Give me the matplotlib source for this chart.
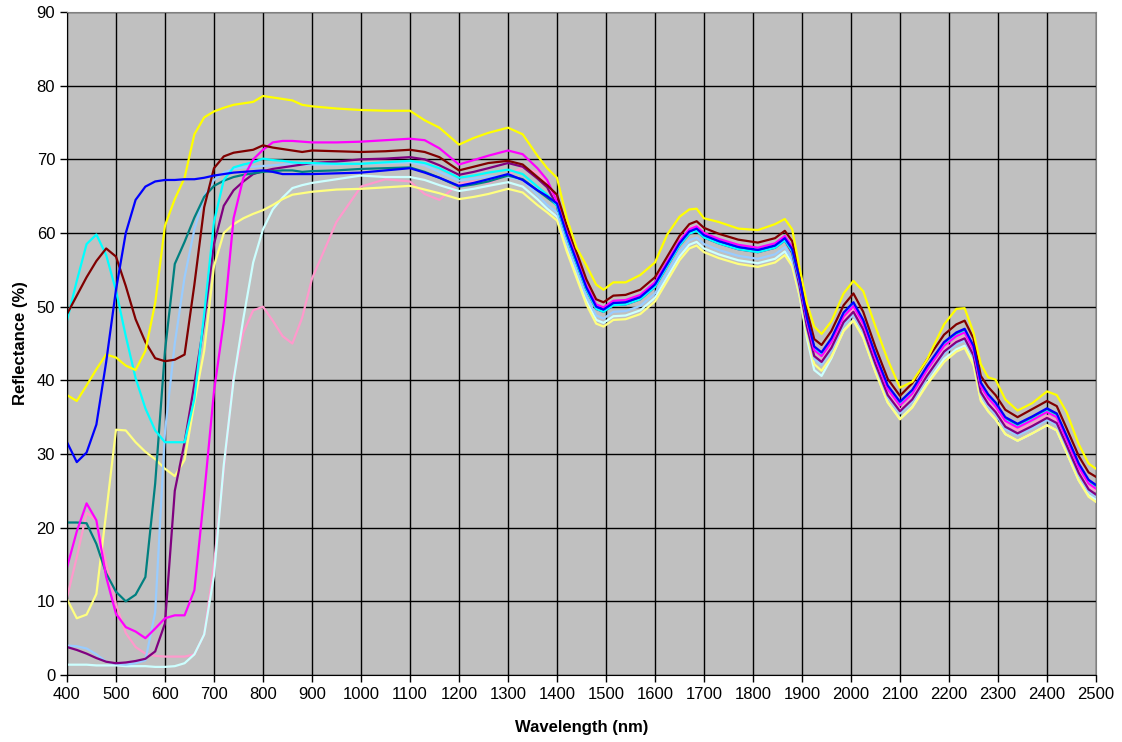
# Reflectance spectra
import matplotlib
matplotlib.use('Agg')
import matplotlib.pyplot as plt

#wavelength knots (nm)
wl_short = [400, 420, 440, 460, 480, 500, 520, 540, 560, 580, 600, 620, 640, 660, 680,
            700, 720, 740, 760, 780, 800, 820, 840, 860, 880, 900, 950, 1000, 1050,
            1100, 1130, 1160, 1200, 1230, 1260, 1300, 1330, 1360, 1380]
wl_long = [1400, 1420, 1440, 1460, 1480, 1495, 1515, 1540, 1570, 1600,
           1625, 1650, 1670, 1685, 1700, 1730, 1770, 1810, 1845, 1865,
           1880, 1895, 1910, 1925, 1940, 1960, 1985, 2005, 2025, 2050,
           2075, 2100, 2125, 2155, 2190, 2215, 2232, 2250, 2265, 2280,
           2295, 2315, 2340, 2370, 2400, 2420, 2440, 2465, 2485, 2500]

#reflectance (%)
yellow_short = [38.0, 37.2, 39.3, 41.5, 43.5, 43.1, 42.0, 41.4, 44.0, 50.5, 61.0, 64.6, 67.5,
                73.4, 75.7, 76.5, 77.0, 77.4, 77.6, 77.8, 78.6, 78.4, 78.2, 78.0, 77.4, 77.2,
                76.9, 76.7, 76.6, 76.6, 75.3, 74.3, 72.0, 72.9, 73.6, 74.3, 73.4, 70.5, 68.8]
yellow_long = [67.5, 62.0, 58.0, 55.6, 53.0, 52.3, 53.3, 53.3, 54.3, 56.0,
               59.8, 62.2, 63.2, 63.3, 62.0, 61.5, 60.6, 60.4, 61.2, 61.9,
               60.5, 55.3, 50.5, 47.3, 46.3, 48.0, 51.8, 53.5, 52.1, 47.3,
               42.8, 39.0, 39.8, 42.8, 47.6, 49.7, 49.8, 46.5, 42.2, 40.4,
               40.1, 37.4, 35.9, 36.9, 38.5, 38.0, 35.7, 31.3, 28.7, 28.0]

lyellow_short = [10.3, 7.7, 8.2, 11.0, 22.0, 33.3, 33.2, 31.6, 30.3, 29.3, 28.0, 27.0, 29.2,
                 37.0, 44.0, 55.5, 60.0, 61.2, 62.0, 62.6, 63.1, 63.8, 64.6, 65.2, 65.4, 65.6,
                 65.9, 66.0, 66.2, 66.4, 65.9, 65.4, 64.6, 64.9, 65.3, 66.0, 65.5, 63.8, 62.8]
lyellow_long = [61.7, 57.5, 53.9, 50.3, 47.7, 47.3, 48.2, 48.3, 49.0, 50.7,
                53.5, 56.3, 57.9, 58.3, 57.4, 56.6, 55.8, 55.4, 56.0, 57.0,
                55.5, 51.5, 46.2, 42.2, 41.3, 43.2, 46.7, 48.1, 45.8, 41.1,
                37.0, 34.7, 36.3, 39.4, 42.5, 43.9, 44.4, 42.1, 37.2, 35.8,
                34.7, 32.7, 31.8, 32.8, 33.9, 33.2, 30.2, 26.4, 24.2, 23.5]

cyan_short = [48.1, 53.5, 58.5, 59.8, 57.0, 52.2, 46.0, 40.3, 36.2, 33.2, 31.6, 31.6, 31.6,
              37.5, 49.0, 61.5, 67.2, 68.9, 69.3, 69.6, 70.1, 69.9, 69.8, 69.6, 69.5, 69.5,
              69.4, 69.4, 69.6, 69.8, 69.5, 68.8, 67.5, 67.8, 68.2, 68.6, 68.0, 66.3, 65.2]
cyan_long = [63.7, 59.5, 55.9, 52.3, 49.7, 49.3, 50.2, 50.3, 51.0, 52.7,
             55.5, 58.3, 59.9, 60.3, 59.4, 58.6, 57.8, 57.4, 58.0, 59.0,
             57.5, 53.5, 48.2, 44.3, 43.5, 45.4, 48.9, 50.3, 47.9, 43.2,
             39.0, 36.8, 38.3, 41.5, 44.8, 46.1, 46.6, 44.3, 39.3, 37.7,
             36.6, 34.6, 33.7, 34.7, 35.8, 35.1, 32.1, 28.3, 26.1, 25.4]

lcyan_short = [1.4, 1.4, 1.4, 1.3, 1.3, 1.3, 1.2, 1.2, 1.2, 1.1, 1.1, 1.2, 1.6,
               2.8, 5.5, 13.5, 28.5, 40.0, 48.4, 56.0, 60.5, 63.2, 64.8, 66.1, 66.5, 66.8,
               67.3, 67.8, 67.6, 67.6, 67.2, 66.5, 65.7, 66.0, 66.4, 66.9, 66.3, 64.6, 63.3]
lcyan_long = [62.2, 58.0, 54.4, 50.8, 48.2, 47.8, 48.7, 48.8, 49.5, 51.2,
              54.0, 56.8, 58.4, 58.8, 57.9, 57.1, 56.3, 55.9, 56.5, 57.5,
              55.8, 51.6, 45.7, 41.4, 40.6, 43.0, 46.8, 48.2, 45.9, 41.2,
              37.0, 34.8, 36.4, 39.6, 42.9, 44.2, 44.7, 42.4, 37.4, 35.8,
              34.7, 32.7, 31.8, 32.8, 33.9, 33.2, 30.2, 26.4, 24.4, 23.8]

blue_short = [31.6, 28.9, 30.2, 34.0, 42.5, 52.3, 60.0, 64.5, 66.3, 67.0, 67.2, 67.2, 67.3,
              67.3, 67.5, 67.8, 68.0, 68.2, 68.3, 68.4, 68.5, 68.3, 68.0, 68.0, 68.0, 68.0,
              68.1, 68.2, 68.5, 68.8, 68.2, 67.5, 66.4, 66.8, 67.3, 68.0, 67.2, 65.8, 65.0]
blue_long = [64.0, 59.8, 56.2, 52.6, 50.0, 49.6, 50.5, 50.6, 51.3, 53.0,
             55.8, 58.6, 60.2, 60.6, 59.7, 58.9, 58.1, 57.7, 58.3, 59.3,
             57.8, 53.8, 48.5, 44.6, 43.8, 45.7, 49.2, 50.6, 48.2, 43.5,
             39.3, 37.1, 38.7, 41.9, 45.2, 46.5, 47.0, 44.7, 39.7, 38.1,
             37.0, 35.0, 34.1, 35.1, 36.2, 35.5, 32.5, 28.7, 26.5, 25.8]

maroon_short = [49.0, 51.5, 54.0, 56.2, 57.9, 56.8, 52.8, 48.3, 45.2, 43.0, 42.6, 42.8, 43.5,
                53.0, 63.5, 68.8, 70.4, 70.9, 71.1, 71.3, 71.9, 71.6, 71.4, 71.2, 71.0, 71.2,
                71.1, 71.0, 71.1, 71.3, 71.0, 70.3, 68.5, 69.0, 69.5, 69.8, 69.3, 67.6, 66.5]
maroon_long = [65.2, 61.0, 57.4, 53.7, 51.0, 50.6, 51.5, 51.6, 52.3, 54.0,
               56.8, 59.6, 61.2, 61.6, 60.7, 59.9, 59.1, 58.7, 59.3, 60.3,
               58.9, 54.9, 49.5, 45.6, 44.8, 46.7, 50.2, 51.8, 49.3, 44.5,
               40.2, 37.9, 39.6, 42.8, 46.2, 47.6, 48.1, 45.7, 40.6, 39.1,
               38.0, 36.0, 35.0, 36.1, 37.2, 36.5, 33.5, 29.7, 27.5, 26.9]

magenta_short = [14.6, 19.5, 23.3, 21.0, 13.3, 8.3, 6.5, 5.9, 5.0, 6.3, 7.7, 8.1, 8.1,
                 11.5, 24.5, 38.5, 48.0, 62.0, 67.5, 70.0, 71.3, 72.3, 72.5, 72.5, 72.4, 72.3,
                 72.3, 72.4, 72.6, 72.8, 72.6, 71.5, 69.3, 69.9, 70.5, 71.2, 70.7, 68.8, 67.2]
magenta_long = [64.3, 60.1, 56.5, 52.9, 50.3, 49.9, 50.8, 50.9, 51.6, 53.3,
                56.1, 58.9, 60.5, 60.9, 60.0, 59.2, 58.4, 58.0, 58.6, 59.6,
                58.1, 53.6, 48.1, 44.1, 43.3, 45.2, 48.7, 50.1, 47.7, 43.0,
                38.8, 36.6, 38.2, 41.4, 44.7, 46.0, 46.5, 44.2, 39.2, 37.6,
                36.5, 34.5, 33.6, 34.6, 35.7, 35.0, 32.0, 28.2, 26.0, 25.3]

pink_short = [10.5, 16.0, 22.0, 21.0, 15.1, 9.6, 5.7, 3.8, 2.9, 2.6, 2.5, 2.5, 2.5,
              2.8, 5.5, 15.0, 28.0, 40.5, 46.5, 49.5, 50.0, 48.1, 46.0, 45.0, 48.5, 53.8,
              61.5, 66.3, 67.3, 67.0, 65.3, 64.5, 66.7, 67.0, 66.8, 67.9, 68.9, 68.2, 66.6]
pink_long = [63.8, 59.6, 56.0, 52.4, 49.8, 49.4, 50.3, 50.4, 51.1, 52.9,
             55.9, 58.9, 60.6, 61.0, 60.0, 59.0, 58.0, 57.5, 58.0, 59.0,
             57.4, 53.0, 47.5, 43.4, 42.7, 44.6, 48.2, 49.7, 47.2, 42.5,
             38.3, 36.0, 37.6, 40.8, 44.1, 45.4, 45.9, 43.6, 38.7, 37.1,
             36.0, 34.1, 33.2, 34.1, 35.2, 34.5, 31.5, 27.7, 25.6, 25.0]

teal_short = [20.7, 20.7, 20.6, 17.8, 13.8, 11.3, 10.0, 10.9, 13.3, 26.0, 44.0, 55.8, 58.8,
              62.1, 64.9, 66.4, 67.1, 67.6, 67.9, 68.1, 68.3, 68.4, 68.5, 68.5, 68.3, 68.4,
              68.5, 68.7, 68.8, 68.9, 68.3, 67.5, 66.3, 66.6, 67.0, 67.8, 67.3, 65.8, 64.8]
teal_long = [63.8, 59.6, 56.0, 52.4, 49.8, 49.4, 50.3, 50.4, 51.1, 52.8,
             55.6, 58.4, 60.0, 60.4, 59.5, 58.7, 57.9, 57.5, 58.1, 59.1,
             57.6, 53.6, 48.3, 44.4, 43.6, 45.5, 49.0, 50.4, 48.0, 43.3,
             39.1, 36.9, 38.5, 41.7, 45.0, 46.3, 46.8, 44.5, 39.5, 37.9,
             36.8, 34.8, 33.9, 34.9, 36.0, 35.3, 32.3, 28.5, 26.3, 25.6]

purple_short = [3.8, 3.4, 2.9, 2.3, 1.8, 1.6, 1.7, 1.9, 2.2, 3.2, 7.0, 25.0, 31.6,
                39.5, 48.0, 58.5, 63.7, 65.8, 67.0, 68.0, 68.4, 68.7, 68.9, 69.1, 69.3, 69.5,
                69.7, 70.0, 70.1, 70.3, 70.0, 69.2, 67.9, 68.3, 68.8, 69.5, 69.0, 67.4, 66.2]
purple_long = [63.7, 59.5, 55.9, 52.3, 49.7, 49.3, 50.2, 50.3, 51.0, 52.7,
               55.5, 58.3, 59.9, 60.3, 59.4, 58.6, 57.8, 57.4, 58.0, 59.0,
               57.3, 52.8, 47.3, 43.3, 42.5, 44.4, 47.9, 49.3, 46.9, 42.2,
               38.0, 35.8, 37.4, 40.6, 43.9, 45.2, 45.7, 43.4, 38.4, 36.8,
               35.7, 33.7, 32.8, 33.8, 34.9, 34.2, 31.2, 27.4, 25.2, 24.5]

skyblue_short = [4.0, 3.9, 3.6, 2.8, 1.8, 1.5, 1.4, 1.6, 2.0, 8.5, 33.0, 45.0, 54.0,
                 60.5, 65.0, 67.2, 68.2, 68.7, 68.9, 69.0, 69.1, 69.2, 69.3, 69.4, 69.3, 69.3,
                 69.3, 69.4, 69.5, 69.6, 69.2, 68.3, 67.1, 67.4, 67.7, 67.6, 67.2, 65.2, 63.8]
skyblue_long = [62.8, 58.6, 55.0, 51.4, 48.8, 48.4, 49.3, 49.4, 50.1, 51.8,
                54.6, 57.4, 59.0, 59.4, 58.5, 57.7, 56.9, 56.5, 57.1, 58.1,
                56.4, 52.3, 46.9, 42.9, 42.1, 44.0, 47.5, 48.9, 46.6, 41.9,
                37.7, 35.5, 37.1, 40.3, 43.6, 44.9, 45.4, 43.1, 38.1, 36.5,
                35.4, 33.4, 32.5, 33.5, 34.6, 33.9, 30.9, 27.1, 24.9, 24.2]

wl = wl_short + wl_long
series = [
    (pink_short + pink_long, '#FF99CC'),
    (lcyan_short + lcyan_long, '#CCFFFF'),
    (lyellow_short + lyellow_long, '#FFFF80'),
    (skyblue_short + skyblue_long, '#99CCFF'),
    (purple_short + purple_long, '#800080'),
    (teal_short + teal_long, '#008080'),
    (cyan_short + cyan_long, '#00FFFF'),
    (magenta_short + magenta_long, '#FF00FF'),
    (maroon_short + maroon_long, '#800000'),
    (yellow_short + yellow_long, '#FFFF00'),
    (blue_short + blue_long, '#0000FF'),
]

#plotting
plt.rcParams['font.family'] = ['Liberation Sans', 'DejaVu Sans']
fig = plt.figure(figsize=(11.22, 7.42), dpi=100)
ax = fig.add_axes([0.0597, 0.0903, 0.9171, 0.8935])
ax.set_facecolor('#C0C0C0')

for values, color in series:
    ax.plot(wl, values, color=color, lw=1.6)

ax.set_xlim(400, 2500)
ax.set_ylim(0, 90)
ax.set_xticks(range(400, 2501, 100))
ax.set_yticks(range(0, 91, 10))
ax.grid(True, color='black', lw=1)
ax.set_axisbelow(True)
ax.tick_params(direction='out', length=5, width=1, labelsize=12, color='black')
for side in ['top', 'right']:
    ax.spines[side].set_color('#808080')
ax.spines['left'].set_color('black')
ax.spines['bottom'].set_color('black')
ax.set_xlabel('Wavelength (nm)', fontsize=12, fontweight='bold', labelpad=13)
ax.set_ylabel('Reflectance (%)', fontsize=12, fontweight='bold', labelpad=6)

plt.savefig('out.png', dpi=100)
